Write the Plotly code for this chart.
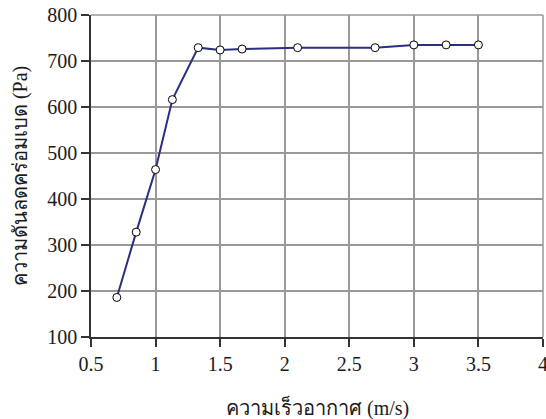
import plotly.graph_objects as go

air_velocity = [0.7, 0.85, 1.0, 1.13, 1.33, 1.5, 1.67, 2.1, 2.7, 3.0, 3.25, 3.5]
pressure_drop = [186, 328, 464, 616, 729, 724, 726, 729, 729, 735, 735, 735]

x_ticks = [0.5, 1, 1.5, 2, 2.5, 3, 3.5, 4]
x_tick_text = ["0.5", "1", "1.5", "2", "2.5", "3", "3.5", "4"]
y_ticks = [100, 200, 300, 400, 500, 600, 700, 800]

x_title = "ความเร็วอากาศ (m/s)"
y_title = "ความดันลดคร่อมเบด (Pa)"

font_family = "Liberation Serif"

fig = go.Figure()
fig.add_trace(go.Scatter(
    x=air_velocity, y=pressure_drop, mode="lines+markers",
    line=dict(color="#2b2f7e", width=2),
    marker=dict(symbol="circle", size=8, color="white",
                line=dict(color="black", width=1)),
    showlegend=False,
    cliponaxis=False,
))

fig.update_layout(
    width=546, height=419,
    margin=dict(l=91, r=3, t=15, b=82),
    paper_bgcolor="white", plot_bgcolor="white",
    font=dict(family=font_family, size=20, color="#1a1a1a"),
    xaxis=dict(
        range=[0.5, 4], tickvals=x_ticks, ticktext=x_tick_text,
        showgrid=True, gridcolor="#999", gridwidth=1.5,
        showline=True, linecolor="#333", linewidth=1.5,
        ticks="outside", ticklen=8, tickcolor="#333", tickwidth=1.5,
        zeroline=False, automargin=False, ticklabeloverflow="allow",
        tickfont=dict(size=20),
    ),
    yaxis=dict(
        range=[100, 800], tickvals=y_ticks,
        showgrid=True, gridcolor="#999", gridwidth=1.5,
        showline=True, linecolor="#333", linewidth=1.5,
        ticks="outside", ticklen=8, tickcolor="#333", tickwidth=1.5,
        zeroline=False, automargin=False, ticklabeloverflow="allow",
        tickfont=dict(size=20),
    ),
    annotations=[
        dict(text=x_title, xref="paper", yref="paper", x=0.5, y=-0.22,
             xanchor="center", yanchor="middle", showarrow=False,
             font=dict(size=20)),
        dict(text=y_title, xref="paper", yref="paper", x=-0.157, y=0.5,
             xanchor="center", yanchor="middle", showarrow=False,
             textangle=-90, font=dict(size=20)),
    ],
)
# grey top and right border of the plot area
fig.add_shape(type="line", xref="paper", yref="paper", x0=0, y0=1, x1=1, y1=1,
              line=dict(color="#999", width=1.5), layer="between")
fig.add_shape(type="line", xref="paper", yref="paper", x0=1, y0=0, x1=1, y1=1,
              line=dict(color="#999", width=1.5), layer="between")

fig.write_html(
    "out.html",
    config={"displayModeBar": False},
    post_script="document.body.style.margin='0';document.body.style.overflow='hidden';",
)
